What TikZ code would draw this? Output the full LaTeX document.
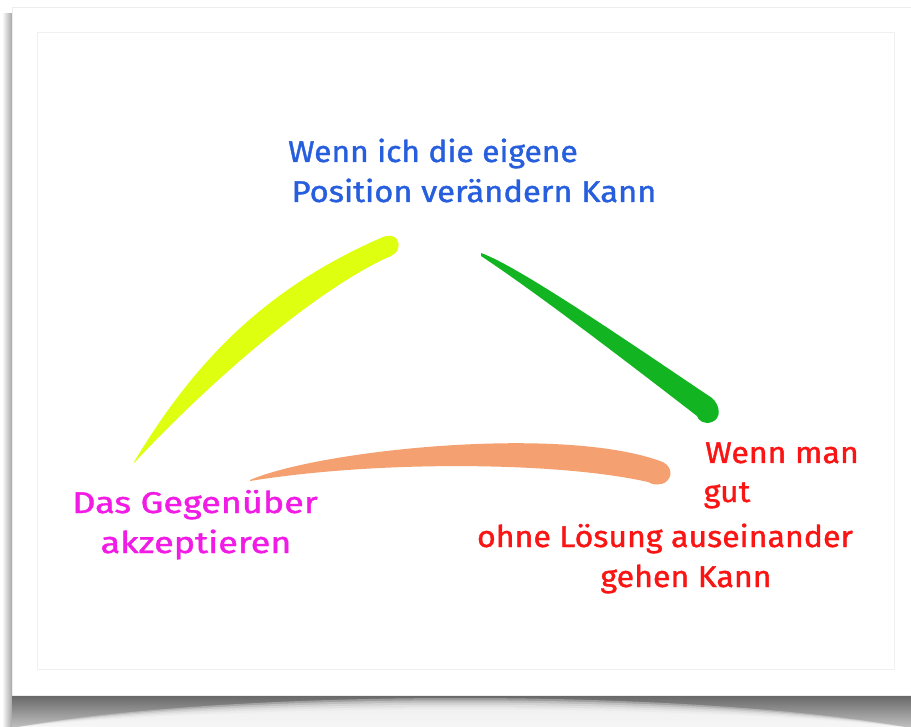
\documentclass[tikz,border=0pt]{standalone}
\usepackage{fontspec}
\setmainfont{Fira Sans}
\newfontfamily\handfont{Fira Sans}[FakeBold=1.2]
\newcommand\handline[2]{\scalebox{#1}[1]{#2}}
\definecolor{inkblue}{RGB}{38,94,221}
\definecolor{inkmagenta}{RGB}{242,27,229}
\definecolor{inkred}{RGB}{250,20,20}
\definecolor{brushyellow}{RGB}{222,255,16}
\definecolor{brushgreen}{RGB}{18,180,34}
\definecolor{brushorange}{RGB}{245,160,112}
\begin{document}
\begin{tikzpicture}[x=1pt,y=-1pt,line join=round,
  hand/.style={inner sep=0pt,outer sep=0pt,anchor=base,font=\handfont\fontsize{30}{35}\selectfont},
  framecard/.style={fill=white,draw=black!7,line width=0.8pt},
  innerframe/.style={draw=black!6,line width=1pt}]
\useasboundingbox (0,0) rectangle (911,727);
\fill[white] (0,0) rectangle (911,727);

% card shadows
\shade[left color=white,right color=black!35] (2,14) rectangle (12,727);
\shade[top color=black!60,bottom color=black!25] (12,695) rectangle (911,727);
\foreach \d in {0,3,6,9,12,15}
  \fill[white,opacity=0.3] (12,728) .. controls (230,688+\d) and (690,688+\d) .. (911,728) -- cycle;

% card and its inner frame
\path[framecard] (12,7) rectangle (915,695);
\path[innerframe] (37,33) rectangle (894,669);

% brush strokes
\fill[brushyellow] (134,462) .. controls (193,364) and (263,289) .. (383,237)
  .. controls (395,232) and (402,242) .. (397,251)
  .. controls (394,256) and (385,258) .. (378,262)
  .. controls (300,302) and (200,392) .. (134,463) -- cycle;

\fill[brushgreen] (481,253) .. controls (521,267) and (652,358) .. (712,398)
  .. controls (720,405) and (722,418) .. (712,422)
  .. controls (704,425) and (698,420) .. (697,416)
  .. controls (640,372) and (540,295) .. (481,256) -- cycle;

\fill[brushorange] (250,480) .. controls (320,450) and (560,425) .. (660,461)
  .. controls (670,464) and (674,474) .. (667,481)
  .. controls (662,486) and (652,485) .. (648,482)
  .. controls (560,462) and (380,460) .. (250,481) -- cycle;

% labels
\node[hand,text=inkblue] (top1) at (433,162) {\handline{1.06}{Wenn ich die eigene}};
\node[hand,text=inkblue] (top2) at (474,202) {\handline{1.09}{Position verändern Kann}};

\node[hand,text=inkmagenta] (left1) at (195,513) {\handline{1.2}{Das Gegenüber}};
\node[hand,text=inkmagenta] (left2) at (196,553) {\handline{1.2}{akzeptieren}};

\node[hand,text=inkred] (right1) at (782,463) {\handline{1.07}{Wenn man}};
\node[hand,text=inkred] (right2) at (727,502) {\handline{1.07}{gut}};
\node[hand,text=inkred] (right3) at (665,547) {\handline{1.07}{ohne Lösung auseinander}};
\node[hand,text=inkred] (right4) at (686,587) {\handline{1.07}{gehen Kann}};
\end{tikzpicture}
\end{document}
